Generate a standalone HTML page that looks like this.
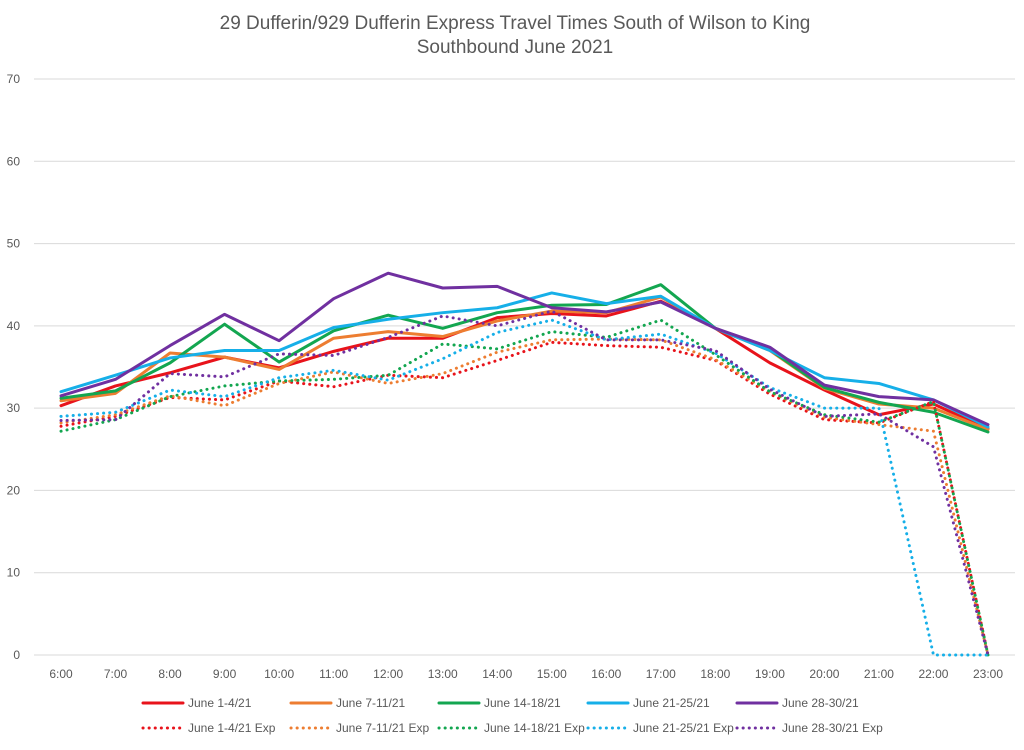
<!DOCTYPE html>
<html><head><meta charset="utf-8"><style>
body{margin:0;background:#fff;font-family:"Liberation Sans",sans-serif}
</style></head><body>
<svg id="c" width="1024" height="745" xmlns="http://www.w3.org/2000/svg"></svg>
<script>
const categories=["6:00","7:00","8:00","9:00","10:00","11:00","12:00","13:00","14:00","15:00","16:00","17:00","18:00","19:00","20:00","21:00","22:00","23:00"];
const yTicks=[0,10,20,30,40,50,60,70];
const seriesNames=["June 1-4/21","June 7-11/21","June 14-18/21","June 21-25/21","June 28-30/21","June 1-4/21 Exp","June 7-11/21 Exp","June 14-18/21 Exp","June 21-25/21 Exp","June 28-30/21 Exp"];
const s1=[30.3,32.7,34.3,36.2,34.9,36.9,38.5,38.5,41,41.5,41.2,43,39.7,35.5,32.2,29.2,30.5,27.5];
const s2=[30.9,31.8,36.7,36.2,34.7,38.5,39.3,38.7,40.6,41.8,41.6,43.5,39.7,37,32.4,30.5,30,27.4];
const s3=[31.2,32.1,35.5,40.2,35.6,39.4,41.3,39.7,41.6,42.5,42.6,45,39.7,37.1,32.5,30.7,29.5,27.1];
const s4=[32,34,36.1,37,37,39.8,40.8,41.6,42.2,44,42.7,43.6,39.7,37,33.7,33,31,27.7];
const s5=[31.5,33.5,37.6,41.4,38.2,43.3,46.4,44.6,44.8,42.2,41.7,42.9,39.7,37.4,32.8,31.4,31,28];
const e1=[27.8,29,31.3,31,33.3,32.6,34,33.7,35.8,38,37.6,37.4,35.8,31.7,28.6,28.2,30.8,0];
const e2=[28.2,29.2,31.5,30.3,33,34.4,33,34.2,36.8,38.3,38.4,38.3,35.9,32,28.9,28,27.2,0];
const e3=[27.2,28.6,31.4,32.7,33.3,33.5,34,37.8,37.2,39.3,38.6,40.7,36.5,32,29.2,28.3,30.8,0];
const e4=[29,29.5,32.2,31.4,33.7,34.6,33.4,36,39.2,40.7,38.3,39,36.7,32.5,30,30,0,0];
const e5=[28.5,28.6,34.2,33.8,36.6,36.4,38.6,41.2,40,41.8,38.3,38.3,37,32.3,29,29.3,25.3,0];
const allSeries=[s1,s2,s3,s4,s5,e1,e2,e3,e4,e5];
const colors=["#e8131b","#ed7d31","#13a650","#16afe8","#7030a0","#e8131b","#ed7d31","#13a650","#16afe8","#7030a0"];
const NS="http://www.w3.org/2000/svg",svg=document.getElementById('c');
const x0=61,dx=(988-61)/17,yb=655,yt=79,ymax=70;
const X=i=>x0+i*dx, Y=v=>yb-(v/ymax)*(yb-yt);
function mk(t,a,p){const e=document.createElementNS(NS,t);for(const k in a)e.setAttribute(k,a[k]);(p||svg).appendChild(e);return e;}
const title=mk('text',{x:515,y:29,'text-anchor':'middle','font-size':19,fill:'#595959'});


title.textContent="29 Dufferin/929 Dufferin Express Travel Times South of Wilson to King";
const sub=mk('text',{x:515,y:53,'text-anchor':'middle','font-size':19,fill:'#595959'});


sub.textContent="Southbound  June 2021";
yTicks.forEach(v=>{
  const g=mk('line',{x1:34,x2:1015,y1:Y(v),y2:Y(v),stroke:'#d9d9d9','stroke-width':1});
  
  
  const t=mk('text',{x:20,y:Y(v)+4,'text-anchor':'end','font-size':12,fill:'#595959'});
  
  
  t.textContent=v;
});
categories.forEach((c,i)=>{
  const t=mk('text',{x:X(i),y:678,'text-anchor':'middle','font-size':12,fill:'#595959'});
  
  
  t.textContent=c;
});
allSeries.forEach((s,k)=>{
  const dotted=k>=5;
  const p=mk('polyline',{points:s.map((v,i)=>X(i)+','+Y(v)).join(' '),fill:'none',stroke:colors[k],'stroke-width':dotted?3:3,'stroke-linejoin':'round','stroke-linecap':'round'});
  if(dotted){p.setAttribute('stroke-dasharray','0.1 6');}
  
  
});
const lx=[143,291,439,588,737];
seriesNames.forEach((n,k)=>{
  const row=k<5?0:1, col=k%5, y=row?728:703, x=lx[col];
  const g=mk('g',{});
  
  
  const l=mk('line',{x1:x,x2:x+40,y1:y,y2:y,stroke:colors[k],'stroke-width':3,'stroke-linecap':'round'},g);
  if(row)l.setAttribute('stroke-dasharray','0.1 6');
  const t=mk('text',{x:x+45,y:y+4,'font-size':12,fill:'#595959'},g);
  t.textContent=n;
});
</script>
</body></html>
